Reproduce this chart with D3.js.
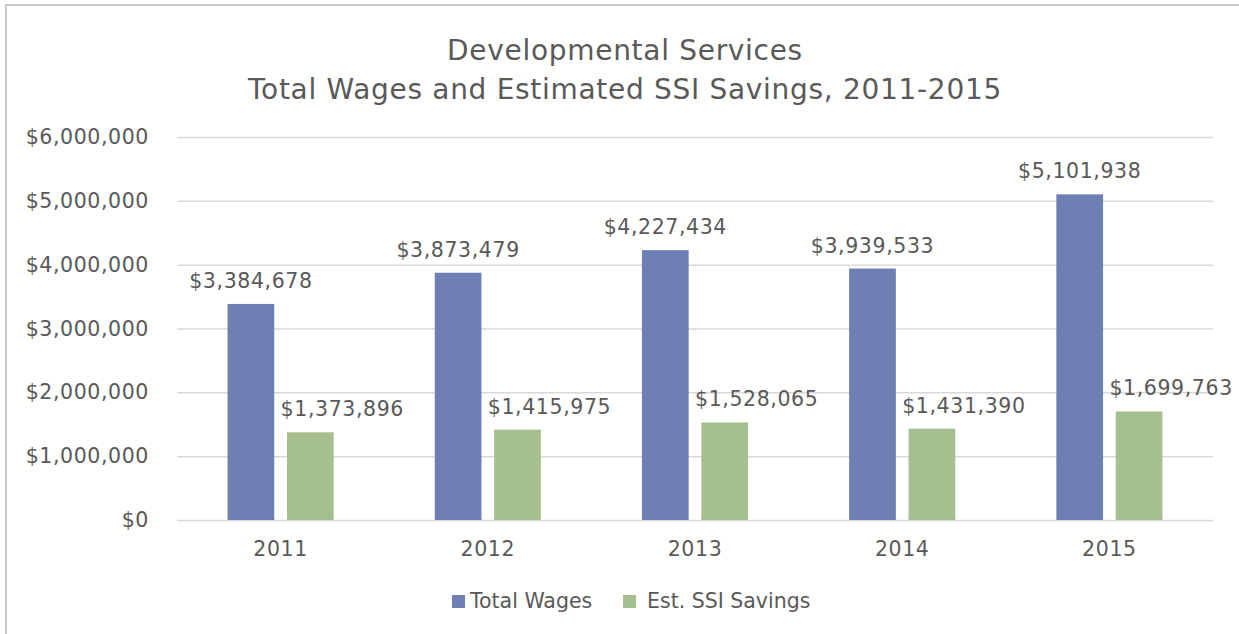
<!DOCTYPE html>
<html>
<head>
<meta charset="utf-8">
<script src="https://cdn.jsdelivr.net/npm/d3@7"></script>
<style>
  html, body { margin: 0; padding: 0; background: #fff; }
  svg { display: block; }
  text { font-family: "DejaVu Sans", "Liberation Sans", sans-serif; fill: #595959; }
</style>
</head>
<body>
<svg id="chart" width="1239" height="634"></svg>
<script>
const years = ["2011", "2012", "2013", "2014", "2015"];
const seriesNames = ["Total Wages", "Est. SSI Savings"];
const totalWages = [3384678, 3873479, 4227434, 3939533, 5101938];
const ssiSavings = [1373896, 1415975, 1528065, 1431390, 1699763];
const yTicks = [0, 1000000, 2000000, 3000000, 4000000, 5000000, 6000000];
const colors = ["#6E7FB3", "#A5BF8E"];

const FONT = '"DejaVu Sans", "Liberation Sans", sans-serif';
const FS = 20.5, LS = 0.6;
const svg = d3.select("#chart");
const W = 1239, H = 634;
const plot = { left: 177, right: 1213, top: 137, bottom: 520 };

// outer border
svg.append("rect").attr("x", 6).attr("y", 5).attr("width", W + 10).attr("height", H + 10)
  .attr("fill", "none").attr("stroke", "#c9c9c9").attr("stroke-width", 2);

// title
const title = svg.append("text").attr("text-anchor", "middle").attr("font-size", 28)
  .attr("letter-spacing", 0.7).style("fill", "#595959");
title.append("tspan").attr("x", 625).attr("y", 60).text("Developmental Services");
title.append("tspan").attr("x", 625).attr("y", 99).text("Total Wages and Estimated SSI Savings, 2011-2015");

const x0 = d3.scaleBand().domain(years).range([plot.left, plot.right]).paddingInner(0).paddingOuter(0);
const y = d3.scaleLinear().domain([0, 6000000]).range([plot.bottom, plot.top]);

// gridlines
const grid = d3.axisLeft(y).tickValues(yTicks).tickSize(-(plot.right - plot.left)).tickFormat("");
const gg = svg.append("g").attr("transform", `translate(${plot.left},0)`).call(grid);
gg.select(".domain").remove();
gg.selectAll("line").attr("stroke", "#d9d9d9").attr("stroke-width", 1.5);

// y axis labels
const fmt = v => "$" + d3.format(",")(v);
const ya = svg.append("g").attr("transform", `translate(${plot.left - 28},0)`)
  .call(d3.axisLeft(y).tickValues(yTicks).tickSize(0).tickPadding(0).tickFormat(fmt));
ya.select(".domain").remove();
ya.selectAll("text").attr("font-size", FS).attr("letter-spacing", LS)
  .style("font-family", FONT).style("fill", "#595959");

// x axis labels
const xa = svg.append("g").attr("transform", `translate(0,${plot.bottom})`)
  .call(d3.axisBottom(x0).tickSize(0).tickPadding(21));
xa.select(".domain").remove();
xa.selectAll("text").attr("font-size", FS).attr("letter-spacing", LS)
  .style("font-family", FONT).style("fill", "#595959");

// bars
const barW = 46.7, gap = 12.7;
const data = years.map((yr, i) => ({ yr, vals: [totalWages[i], ssiSavings[i]] }));
const x1 = d3.scaleOrdinal().domain([0, 1]).range([-(gap / 2 + barW), gap / 2]);
const labelShift = [0, 32];

const groups = svg.append("g").selectAll("g").data(data).join("g")
  .attr("transform", d => `translate(${x0(d.yr) + x0.bandwidth() / 2},0)`);

groups.selectAll("rect").data(d => d.vals.map((v, k) => ({ v, k }))).join("rect")
  .attr("x", d => x1(d.k))
  .attr("width", barW)
  .attr("y", d => y(d.v))
  .attr("height", d => y(0) - y(d.v))
  .attr("fill", d => colors[d.k]);

groups.selectAll("text.lbl").data(d => d.vals.map((v, k) => ({ v, k }))).join("text")
  .attr("class", "lbl")
  .attr("text-anchor", "middle")
  .attr("font-size", FS)
  .attr("letter-spacing", LS)
  .attr("x", d => x1(d.k) + barW / 2 + labelShift[d.k])
  .attr("y", d => y(d.v) - 16)
  .text(d => fmt(d.v));

// legend
const legend = svg.append("g");
const legendItems = [{ x: 452, tx: 470 }, { x: 623, tx: 647 }];
seriesNames.forEach((name, k) => {
  legend.append("rect").attr("x", legendItems[k].x).attr("y", 595).attr("width", 13).attr("height", 13).attr("fill", colors[k]);
  legend.append("text").attr("x", legendItems[k].tx).attr("y", 608).attr("font-size", FS).text(name);
});
</script>
</body>
</html>
